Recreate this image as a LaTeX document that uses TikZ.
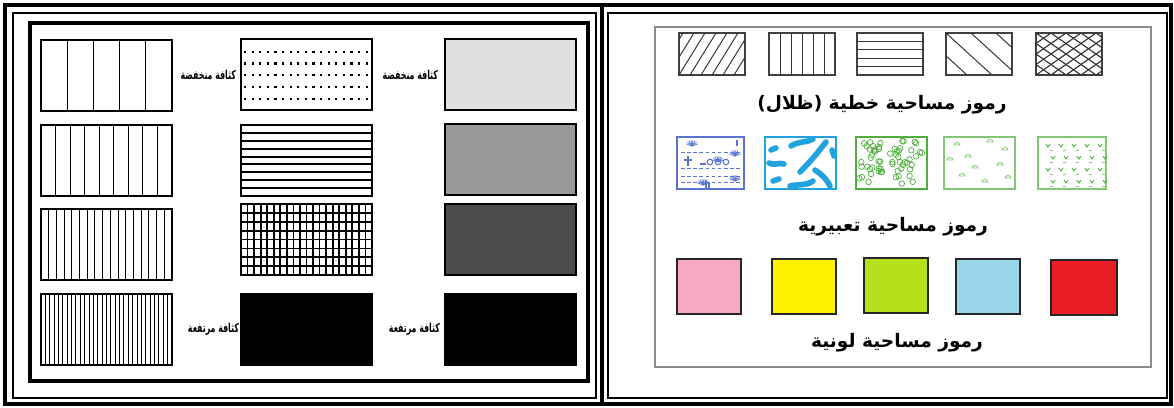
\documentclass[tikz,border=0pt]{standalone}
\usepackage{fontspec}
\usepackage{xcolor}
\usepackage{graphicx}
\usetikzlibrary{positioning}
\TeXXeTstate=1
\newfontfamily\arabicfont[Script=Arabic]{DejaVu Sans}
\definecolor{framegray}{HTML}{8C8C8C}
\definecolor{symblue}{HTML}{5A74D0}
\definecolor{symcyan}{HTML}{22A3DD}
\definecolor{symgreen}{HTML}{4FAE3E}
\definecolor{symlgreen}{HTML}{86C777}
\definecolor{cpink}{HTML}{F7A8C3}
\definecolor{cyellow}{HTML}{FFF200}
\definecolor{cgreen}{HTML}{B4E01C}
\definecolor{cblue}{HTML}{9AD6EA}
\definecolor{cred}{HTML}{EC1C24}
\tikzset{
  every node/.style={inner sep=0pt,outer sep=0pt},
  densbox/.style={draw,line width=0.9pt,anchor=north west,minimum width=2.62cm,minimum height=1.42cm},
  hatchbox/.style={draw=black!75,line width=0.6pt,anchor=north west,minimum width=1.32cm,minimum height=0.84cm},
  hatchline/.style={black!80,line width=0.55pt},
}
\newcommand{\densword}[1]{\scalebox{0.8}[1.25]{\beginR #1\endR}}

\begin{document}
\begin{tikzpicture}[
  x=0.02cm,y=-0.02cm,
  exprbox/.style={draw,line width=0.6pt,anchor=north west,minimum height=1.04cm},
  colbox/.style={draw=black!85,line width=1pt,anchor=north west,minimum height=1.1cm,minimum width=1.28cm},
  denslabel/.style={font=\arabicfont\bfseries\fontsize{5.6}{6}\selectfont},
  titlelabel/.style={font=\arabicfont\bfseries\fontsize{10.6}{13}\selectfont}
]
\useasboundingbox (0,0) rectangle (1174,407);

% frames
\draw[line width=2.2pt] (5,5) rectangle (1171,404);
\draw[line width=2.2pt] (602,5) -- (602,404);
\draw[line width=1pt] (13,13) rectangle (596,398);
\draw[line width=1pt] (608,13) rectangle (1167,398);
\draw[line width=1.8pt] (30,23) rectangle (588,381);
\draw[framegray,line width=0.7pt] (655,27) rectangle (1151,367);

% left panel: density
\node[densbox] (c11) at (41,40) {};
\node[densbox] (c12) at (41,125) {};
\node[densbox] (c13) at (41,209) {};
\node[densbox] (c14) at (41,294) {};
\foreach \yt/\n in {40/5,125/9,209/17,294/30}{
  \pgfmathtruncatemacro\m{\n-1}
  \foreach \i in {1,...,\m}
    \draw[line width=0.6pt] (41+131*\i/\n,\yt) -- ++(0,71);
}

\node[densbox] (c21) at (241,39) {};
\node[densbox] (c22) at (241,125) {};
\node[densbox] (c23) at (241,204) {};
\node[densbox,fill=black] (c24) at (241,294) {};
\foreach \r in {0,...,4}
  \foreach \c in {0,...,16}
    \fill (244+\c*7.6,50.5+\r*11.8) rectangle ++(2.2,2.2);
\foreach \i in {1,...,8}
  \draw[line width=1.1pt] (241,125+71*\i/9) -- ++(131,0);
\foreach \i in {1,...,19}
  \draw[line width=1pt] (241+131*\i/20,204) -- ++(0,71);
\foreach \i in {1,...,7}
  \draw[line width=1pt] (241,204+71*\i/8) -- ++(131,0);

\node[densbox,fill=black!12] (c31) at (445,39) {};
\node[densbox,fill=black!40] (c32) at (445,124) {};
\node[densbox,fill=black!70] (c33) at (445,204) {};
\node[densbox,fill=black] (c34) at (445,294) {};

\node[denslabel,left=0.1cm of c21] (low1) {\densword{كثافة منخفضة}};
\node[denslabel,left=0.14cm of c31] (low2) {\densword{كثافة منخفضة}};
\node[denslabel,left=0.04cm of c24] (high1) {\densword{كثافة مرتفعة}};
\node[denslabel,left=0.1cm of c34] (high2) {\densword{كثافة مرتفعة}};

% right panel: line symbols
\node[hatchbox] (h1) at (679,33) {};
\node[hatchbox] (h2) at (769,33) {};
\node[hatchbox] (h3) at (857,33) {};
\node[hatchbox] (h4) at (946,33) {};
\node[hatchbox] (h5) at (1036,33) {};
\begin{scope}
  \clip (679,33) rectangle ++(66,42);
  \foreach \i in {-3,...,5}
    \draw[hatchline] (679+\i*11,75) -- ++(26,-42);
\end{scope}
\foreach \i in {1,...,5}
  \draw[hatchline] (769+66*\i/6,33) -- ++(0,42);
\foreach \i in {1,...,4}
  \draw[hatchline] (857,33+42*\i/5) -- ++(66,0);
\begin{scope}
  \clip (946,33) rectangle ++(66,42);
  \foreach \i in {-2,...,2}
    \draw[hatchline] (946+\i*25,33) -- ++(46,42);
\end{scope}
\begin{scope}
  \clip (1036,33) rectangle ++(66,42);
  \foreach \i in {-5,...,5}{
    \draw[hatchline,line width=0.65pt] (1036+\i*15,75) -- ++(60,-42);
    \draw[hatchline,line width=0.65pt] (1036+\i*15,33) -- ++(60,42);
  }
\end{scope}
\node[titlelabel] (t1) at (882,105) {\beginR رموز مساحية خطية (ظلال)\endR};

% right panel: expressive symbols
\node[exprbox,draw=symblue,minimum width=1.34cm] (e1) at (677,137) {};
\node[exprbox,draw=symcyan,minimum width=1.42cm] (e2) at (765,137) {};
\node[exprbox,draw=symgreen,minimum width=1.42cm] (e3) at (856,137) {};
\node[exprbox,draw=symlgreen,minimum width=1.42cm] (e4) at (944,137) {};
\node[exprbox,draw=symlgreen,minimum width=1.36cm] (e5) at (1038,137) {};

\foreach \cx/\cy in {692/146,718/162,735/181,703/185,735/156}
  \foreach \a in {200,220,...,340}
    \draw[symblue,line width=0.4pt] (\cx,\cy) -- ++(\a:6);
\foreach \yy in {152,168,176,182}
  \draw[symblue,line width=0.35pt,dash pattern=on 2pt off 1.5pt] (681,\yy) -- (740,\yy);
\draw[symblue,line width=0.6pt] (710,162) circle (1.6pt) (718,162) circle (1.6pt) (726,162) circle (1.6pt);
\draw[symblue,line width=0.6pt] (688,156) -- ++(0,10) (684,160) -- ++(8,0) (737,140) -- ++(0,6) (700,164) -- ++(6,0);
\draw[symblue,line width=0.8pt] (706,180) -- ++(0,8) (709,182) -- ++(0,6);

\begin{scope}[symcyan,line width=3.2pt,line cap=round]
  \draw (771,150) -- (776,148);
  \draw (791,146) .. controls (798,141) and (806,143) .. (813,139);
  \draw (826,142) .. controls (818,152) and (812,160) .. (800,172);
  \draw (769,163) .. controls (774,166) and (779,162) .. (784,164);
  \draw (773,181) -- (779,179);
  \draw (790,186) .. controls (798,184) and (806,186) .. (813,181);
  \draw (815,170) .. controls (821,174) and (826,178) .. (830,186);
  \draw (832,150) -- (834,156);
\end{scope}

\pgfmathsetseed{11}
\foreach \i in {1,...,60}{
  \pgfmathsetmacro\xx{859+rnd*65}
  \pgfmathsetmacro\yy{140+rnd*46}
  \draw[symgreen,line width=0.4pt] (\xx,\yy) circle (1.6pt);
}

\foreach \xx/\yy in {957/145,990/142,1005/150,968/157,1000/165,962/176,985/182,1008/178,975/168,950/160}
  \draw[symlgreen,line width=0.5pt] (\xx,\yy) ++(-3,0) arc (180:360:3 and 2.5) -- cycle;

\foreach \r in {0,...,3}
  \foreach \c in {0,...,4}{
    \pgfmathsetmacro\sh{1046+\c*13+5*mod(\r,2)}
    \draw[symgreen,line width=0.5pt] (\sh,144+\r*12) -- ++(2,3) -- ++(2,-3);
    \draw[symlgreen,line width=0.3pt] (1050+\c*13,150+\r*12) -- ++(3,0);
  }
\node[titlelabel] (t2) at (893,227) {\beginR رموز مساحية تعبيرية\endR};

% right panel: colour symbols
\node[colbox,fill=cpink] (k1) at (677,259) {};
\node[colbox,fill=cyellow] (k2) at (772,259) {};
\node[colbox,fill=cgreen] (k3) at (864,258) {};
\node[colbox,fill=cblue] (k4) at (956,259) {};
\node[colbox,fill=cred,minimum width=1.32cm] (k5) at (1051,260) {};
\node[titlelabel] (t3) at (897,343) {\beginR رموز مساحية لونية\endR};

\end{tikzpicture}
\end{document}
